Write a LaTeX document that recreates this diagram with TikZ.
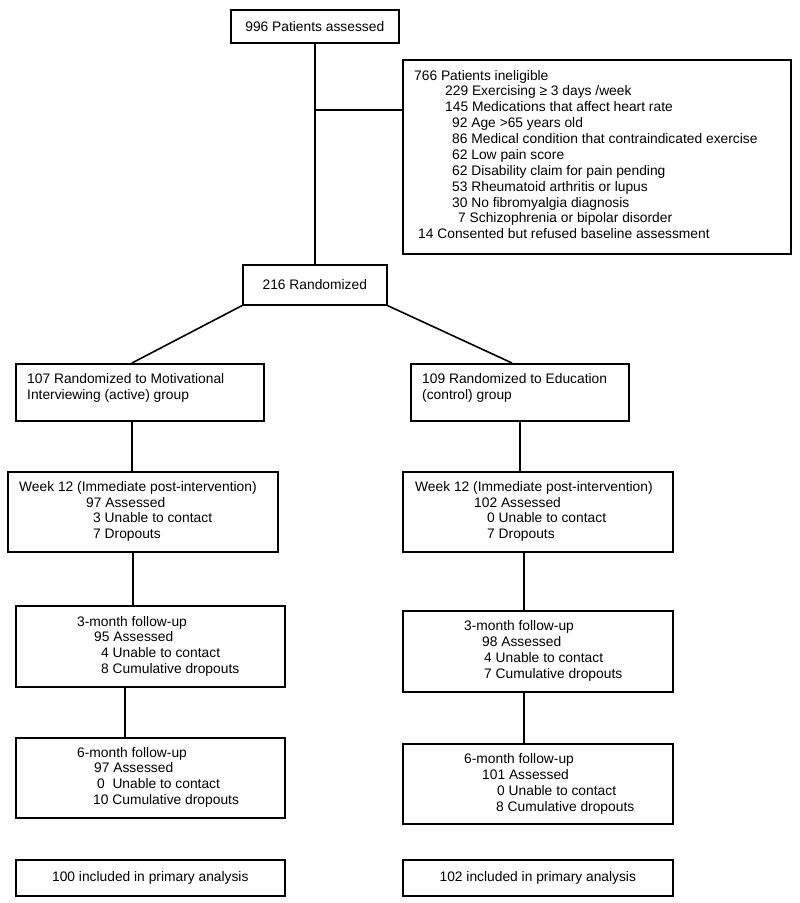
\documentclass[tikz,border=0pt]{standalone}
\usepackage{fontspec}
\setmainfont{Liberation Sans}
\newcommand\mytxt[4]{\node[lbl] (#1) at (#2,#3) {#4};}
\begin{document}
\begin{tikzpicture}[x=1pt,y=-1pt,
  every node/.style={font=\fontsize{13.8}{16}\selectfont},
  box/.style={draw, line width=1.6pt, rectangle, inner sep=0pt, anchor=north west},
  lbl/.style={anchor=base west, inner sep=0pt},
  conn/.style={line width=1.6pt}]
\useasboundingbox[fill=white] (0,0) rectangle (800,903);
% boxes
\node[box, minimum width=168pt, minimum height=33pt] (top) at (230,9) {996 Patients assessed};
\node[box, minimum width=388pt, minimum height=194pt] (inel) at (402,59) {};
\node[box, minimum width=144pt, minimum height=40pt] (rand) at (242,264) {216 Randomized};
\node[box, minimum width=248pt, minimum height=57pt] (l1) at (15,363) {};
\node[box, minimum width=218pt, minimum height=57pt] (r1) at (410,363) {};
\node[box, minimum width=270pt, minimum height=80pt] (l2) at (7,471) {};
\node[box, minimum width=270pt, minimum height=80pt] (r2) at (402,471) {};
\node[box, minimum width=269pt, minimum height=81pt] (l3) at (15,605) {};
\node[box, minimum width=270pt, minimum height=81pt] (r3) at (402,610) {};
\node[box, minimum width=269pt, minimum height=80pt] (l4) at (15,737) {};
\node[box, minimum width=270pt, minimum height=80pt] (r4) at (402,743) {};
\node[box, minimum width=269pt, minimum height=36pt] (l5) at (15,859) {100 included in primary analysis};
\node[box, minimum width=270pt, minimum height=36pt] (r5) at (402,859) {102 included in primary analysis};
% helper coordinates
\coordinate (j) at (314,110);
\coordinate (xl0) at (132,0);
\coordinate (xl1) at (132,0);
\coordinate (xl2) at (133,0);
\coordinate (xl3) at (125,0);
\coordinate (xr0) at (512,0);
\coordinate (xr2) at (524,0);
% connectors
\draw[conn] (top.south) -- (rand.north);
\draw[conn] (j) -- (j -| inel.west);
\draw[conn] (rand.south west) -- (l1.north -| xl0);
\draw[conn] (rand.south east) -- (r1.north -| xr0);
\draw[conn] (l1.south -| xl1) -- (l2.north -| xl1);
\draw[conn] (l2.south -| xl2) -- (l3.north -| xl2);
\draw[conn] (l3.south -| xl3) -- (l4.north -| xl3);
\draw[conn] (r1.south) -- (r2.north -| r1.south);
\draw[conn] (r2.south -| xr2) -- (r3.north -| xr2);
\draw[conn] (r3.south -| xr2) -- (r4.north -| xr2);
% ineligible text
\mytxt{i0}{414}{80}{766 Patients ineligible}
\mytxt{i1}{445}{95.9}{229 Exercising ≥ 3 days /week}
\mytxt{i2}{445}{111.7}{145 Medications that affect heart rate}
\mytxt{i3}{452}{127.6}{92 Age >65 years old}
\mytxt{i4}{452}{143.5}{86 Medical condition that contraindicated exercise}
\mytxt{i5}{452}{159.4}{62 Low pain score}
\mytxt{i6}{452}{175.2}{62 Disability claim for pain pending}
\mytxt{i7}{452}{191.1}{53 Rheumatoid arthritis or lupus}
\mytxt{i8}{452}{207}{30 No fibromyalgia diagnosis}
\mytxt{i9}{458}{222.8}{7 Schizophrenia or bipolar disorder}
\mytxt{i10}{418}{238.7}{14 Consented but refused baseline assessment}
% group boxes
\mytxt{a1}{27}{383}{107 Randomized to Motivational}
\mytxt{a2}{27}{399}{Interviewing (active) group}
\mytxt{b1}{422}{383}{109 Randomized to Education}
\mytxt{b2}{422}{399}{(control) group}
% week 12
\mytxt{c1}{19}{491}{Week 12 (Immediate post-intervention)}
\mytxt{c2}{86}{507}{97 Assessed}
\mytxt{c3}{93}{522}{3 Unable to contact}
\mytxt{c4}{93}{538}{7 Dropouts}
\mytxt{d1}{415}{491}{Week 12 (Immediate post-intervention)}
\mytxt{d2}{474}{507}{102 Assessed}
\mytxt{d3}{487}{522}{0 Unable to contact}
\mytxt{d4}{487}{538}{7 Dropouts}
% 3 month
\mytxt{e1}{77}{626}{3-month follow-up}
\mytxt{e2}{94}{641}{95 Assessed}
\mytxt{e3}{101}{657}{4 Unable to contact}
\mytxt{e4}{101}{673}{8 Cumulative dropouts}
\mytxt{f1}{464}{630}{3-month follow-up}
\mytxt{f2}{482}{646}{98 Assessed}
\mytxt{f3}{484}{662}{4 Unable to contact}
\mytxt{f4}{484}{678}{7 Cumulative dropouts}
% 6 month
\mytxt{g1}{77}{757}{6-month follow-up}
\mytxt{g2}{94}{772}{97 Assessed}
\mytxt{g3}{97}{788}{0\ \ Unable to contact}
\mytxt{g4}{93}{804}{10 Cumulative dropouts}
\mytxt{h1}{464}{763}{6-month follow-up}
\mytxt{h2}{482}{779}{101 Assessed}
\mytxt{h3}{497}{795}{0 Unable to contact}
\mytxt{h4}{496}{811}{8 Cumulative dropouts}
\end{tikzpicture}
\end{document}
